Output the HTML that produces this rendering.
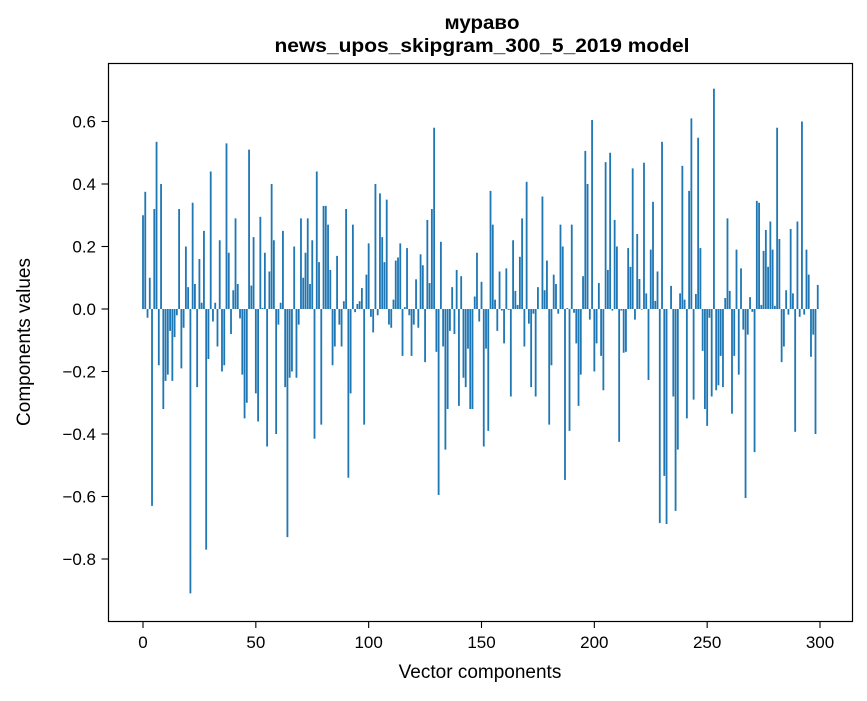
<!DOCTYPE html>
<html><head><meta charset="utf-8"><style>
body{margin:0;background:#fff}
svg text{font-family:"Liberation Sans","DejaVu Sans",sans-serif;fill:#000}
</style></head><body>
<svg id="chart" width="867" height="696" viewBox="0 0 867 696" xmlns="http://www.w3.org/2000/svg">
<rect x="0" y="0" width="867" height="696" fill="#fff"/>
<text x="482" y="29" text-anchor="middle" font-size="19" font-weight="bold" textLength="75" lengthAdjust="spacingAndGlyphs">муравo</text>
<text x="482" y="52" text-anchor="middle" font-size="19" font-weight="bold" textLength="415" lengthAdjust="spacingAndGlyphs">news_upos_skipgram_300_5_2019 model</text>
<g id="bars"></g>
<g id="axes"></g>
<rect x="108.5" y="63.5" width="744" height="558" fill="none" stroke="#000" stroke-width="1.2"/>
<text x="480" y="678" text-anchor="middle" font-size="19">Vector components</text>
<text x="0" y="0" transform="translate(30,342) rotate(-90)" text-anchor="middle" font-size="19">Components values</text>
</svg>
<script>
const values = [0.30,0.375,-0.028,0.10,-0.63,0.32,0.535,-0.18,0.40,-0.32,
-0.23,-0.21,-0.07,-0.23,-0.09,-0.02,0.32,-0.19,-0.06,0.20,
0.07,-0.91,0.34,0.08,-0.25,0.16,0.02,0.25,-0.77,-0.16,
0.44,-0.04,0.02,-0.12,0.22,-0.20,-0.18,0.53,0.18,-0.08,
0.06,0.29,0.08,-0.03,-0.21,-0.35,-0.30,0.51,0.075,0.23,
-0.27,-0.36,0.295,0.003,0.18,-0.44,0.12,0.40,0.22,-0.40,
-0.05,0.02,0.25,-0.25,-0.73,-0.22,-0.20,0.20,-0.22,-0.05,
0.29,0.10,0.18,0.29,0.08,0.22,-0.415,0.44,0.15,-0.37,
0.33,0.33,0.27,0.125,-0.18,-0.12,0.17,-0.05,-0.12,0.025,
0.32,-0.54,-0.27,0.27,-0.01,0.016,0.025,0.067,-0.37,0.11,
0.21,-0.025,-0.075,0.40,-0.02,0.37,0.23,0.15,0.35,-0.05,
-0.06,0.03,0.155,0.165,0.21,-0.15,0.006,0.195,-0.02,-0.15,
-0.05,0.095,-0.06,0.175,0.14,-0.17,0.285,0.083,0.32,0.58,
-0.137,-0.595,0.215,-0.12,-0.45,-0.32,-0.07,0.07,-0.08,0.125,
-0.31,0.105,-0.22,-0.25,-0.127,-0.32,-0.32,0.04,0.18,-0.04,
0.087,-0.44,-0.127,-0.39,0.378,0.27,0.03,-0.07,0.12,-0.005,
-0.11,0.13,-0.003,-0.28,0.22,0.058,0.013,0.167,0.29,-0.12,
0.407,-0.047,-0.25,-0.015,-0.28,0.07,0.0,0.36,0.06,0.155,
-0.37,-0.18,0.11,0.08,-0.015,0.27,0.20,-0.547,0.003,-0.39,
0.27,-0.012,-0.11,-0.31,-0.21,0.105,0.506,0.40,-0.034,0.605,
-0.20,-0.11,0.083,-0.15,-0.26,0.47,0.125,0.50,-0.005,0.285,
0.20,-0.425,-0.005,-0.14,-0.137,0.195,0.135,0.45,-0.034,0.24,
0.096,-0.002,0.468,0.05,-0.227,0.19,0.343,0.026,0.12,-0.685,
0.535,-0.534,-0.688,0.0,0.074,-0.28,-0.646,-0.45,0.05,0.458,
0.03,-0.35,0.378,0.61,-0.29,0.048,0.548,0.195,-0.134,-0.32,
-0.374,-0.028,-0.28,0.705,-0.26,-0.244,-0.15,-0.25,0.035,0.29,
0.058,-0.335,-0.15,0.19,-0.21,0.13,-0.066,-0.605,-0.082,0.038,
-0.009,-0.458,0.346,0.34,0.013,0.186,0.253,0.135,0.28,0.19,
0.01,0.58,0.224,-0.17,-0.12,0.06,-0.018,0.256,0.05,-0.393,
0.28,-0.025,0.60,-0.018,0.19,0.11,-0.153,-0.082,-0.40,0.077];
const xTicks = [0,50,100,150,200,250,300];
const yTicks = [-0.8,-0.6,-0.4,-0.2,0.0,0.2,0.4,0.6];
const yTickLabels = ["\u22120.8","\u22120.6","\u22120.4","\u22120.2","0.0","0.2","0.4","0.6"];

const NS = "http://www.w3.org/2000/svg";
const xScale = v => 143 + v * (677 / 300);
const yScale = v => 309 - v * 312.5;
const barW = 0.8 * (677 / 300);
const bars = document.getElementById('bars');
values.forEach((v, i) => {
  const r = document.createElementNS(NS, 'rect');
  const y0 = yScale(0), y1 = yScale(v);
  r.setAttribute('x', (xScale(i) - barW / 2).toFixed(2));
  r.setAttribute('y', Math.min(y0, y1).toFixed(2));
  r.setAttribute('width', barW.toFixed(2));
  r.setAttribute('height', Math.max(Math.abs(y1 - y0), 0.01).toFixed(2));
  r.setAttribute('fill', '#1f77b4');
  
  
  bars.appendChild(r);
});
const axes = document.getElementById('axes');
xTicks.forEach(t => {
  const x = xScale(t);
  const l = document.createElementNS(NS, 'line');
  l.setAttribute('x1', x); l.setAttribute('x2', x);
  l.setAttribute('y1', 621.5); l.setAttribute('y2', 628);
  l.setAttribute('stroke', '#000'); l.setAttribute('stroke-width', '1.1');
  
  
  axes.appendChild(l);
  const tx = document.createElementNS(NS, 'text');
  tx.setAttribute('x', x); tx.setAttribute('y', 648);
  tx.setAttribute('text-anchor', 'middle'); tx.setAttribute('font-size', '17');
  tx.textContent = String(t);
  
  
  axes.appendChild(tx);
});
yTicks.forEach((t, i) => {
  const y = yScale(t);
  const l = document.createElementNS(NS, 'line');
  l.setAttribute('x1', 101.5); l.setAttribute('x2', 108.5);
  l.setAttribute('y1', y); l.setAttribute('y2', y);
  l.setAttribute('stroke', '#000'); l.setAttribute('stroke-width', '1.1');
  
  
  axes.appendChild(l);
  const tx = document.createElementNS(NS, 'text');
  tx.setAttribute('x', 96); tx.setAttribute('y', y + 6);
  tx.setAttribute('text-anchor', 'end'); tx.setAttribute('font-size', '17');
  tx.textContent = yTickLabels[i];
  
  
  axes.appendChild(tx);
});
</script>
</body></html>
